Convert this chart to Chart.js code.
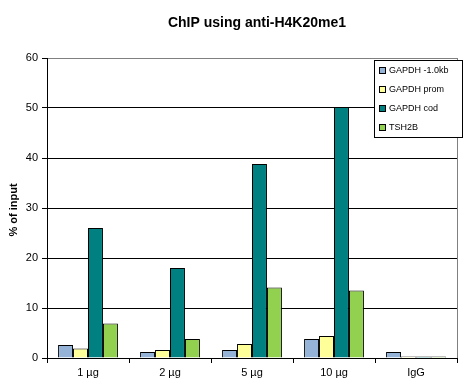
<!DOCTYPE html>
<html><head><meta charset="utf-8">
<script src="https://cdn.jsdelivr.net/npm/chart.js@4/dist/chart.umd.min.js"></script>
<style>html,body{margin:0;padding:0;background:#fff}#w{width:470px;height:388px;position:relative}</style>
</head><body><div id="w"><canvas id="c"></canvas></div>
<script>
const categories = ['1 µg', '2 µg', '5 µg', '10 µg', 'IgG'];
const seriesNames = ['GAPDH -1.0kb', 'GAPDH prom', 'GAPDH cod', 'TSH2B'];
const gapdh10kb = [2.6, 1.2, 1.6, 3.8, 1.2];
const gapdhProm = [1.9, 1.6, 2.8, 4.4, 0.3];
const gapdhCod = [26, 18, 38.8, 50.2, 0.3];
const tsh2b = [6.9, 3.8, 14.1, 13.5, 0.3];
const yTicks = [0, 10, 20, 30, 40, 50, 60];
const colors = ['#95B3D7', '#FFFF99', '#008080', '#92D050'];
const titleText = 'ChIP using anti-H4K20me1';
const yTitle = '% of input';

const FONT = 'Arial, "Liberation Sans", sans-serif';

const deco = {
  id: 'deco',
  afterDraw(chart) {
    const ctx = chart.ctx, a = chart.chartArea;
    ctx.save();
    ctx.strokeStyle = '#808080'; ctx.lineWidth = 1;
    ctx.beginPath(); ctx.moveTo(Math.round(a.right) + 0.5, a.top); ctx.lineTo(Math.round(a.right) + 0.5, a.bottom); ctx.stroke();
    ctx.fillStyle = '#000';
    ctx.font = 'bold 14px ' + FONT;
    ctx.textAlign = 'center'; ctx.textBaseline = 'middle';
    ctx.fillText(titleText, 257, 23);
    ctx.save();
    ctx.translate(14, 210); ctx.rotate(-Math.PI / 2);
    ctx.font = 'bold 11px ' + FONT;
    ctx.fillText(yTitle, 0, 0);
    ctx.restore();
    const lx = 374, ly = 60, lw = 88, lh = 77;
    ctx.fillStyle = '#fff'; ctx.fillRect(lx, ly, lw, lh);
    ctx.strokeStyle = '#000'; ctx.strokeRect(lx + 0.5, ly + 0.5, lw, lh);
    const rows = [70, 89, 108, 127];
    ctx.font = '9px ' + FONT; ctx.textAlign = 'left'; ctx.textBaseline = 'middle';
    chart.data.datasets.forEach((ds, i) => {
      ctx.fillStyle = ds.backgroundColor;
      ctx.fillRect(379, rows[i] - 3, 7, 7);
      ctx.strokeStyle = '#000';
      ctx.strokeRect(379.5, rows[i] - 2.5, 6, 6);
      ctx.fillStyle = '#000';
      ctx.fillText(ds.label, 389, rows[i] + 0.5);
    });
    ctx.restore();
  }
};

new Chart(document.getElementById('c'), {
  type: 'bar',
  data: {
    labels: categories,
    datasets: [gapdh10kb, gapdhProm, gapdhCod, tsh2b].map((d, i) => ({
      label: seriesNames[i], data: d, backgroundColor: colors[i],
      borderColor: '#000', borderWidth: 1, barPercentage: 1, categoryPercentage: 0.73
    }))
  },
  options: {
    responsive: true, maintainAspectRatio: false, animation: false,
    layout: { padding: { left: 0, right: 13, top: 58, bottom: 0 } },
    plugins: { legend: { display: false }, title: { display: false }, tooltip: { enabled: false } },
    scales: {
      x: {
        afterFit(s) { s.height = 30; },
        grid: { offset: true, drawOnChartArea: false, tickLength: 5, color: '#000' },
        border: { color: '#000' },
        ticks: { color: '#000', font: { family: FONT, size: 11 }, padding: 3 }
      },
      y: {
        min: 0, max: 60,
        afterFit(s) { s.width = 47; },
        afterBuildTicks(s) { s.ticks = yTicks.map(v => ({ value: v })); },
        grid: { color: ctx => (ctx.tick && ctx.tick.value === 60) ? '#808080' : '#000', tickColor: '#000', tickLength: 5 },
        border: { color: '#000' },
        ticks: { color: '#000', font: { family: FONT, size: 11 }, padding: 4 }
      }
    }
  },
  plugins: [deco]
});
</script></body></html>
